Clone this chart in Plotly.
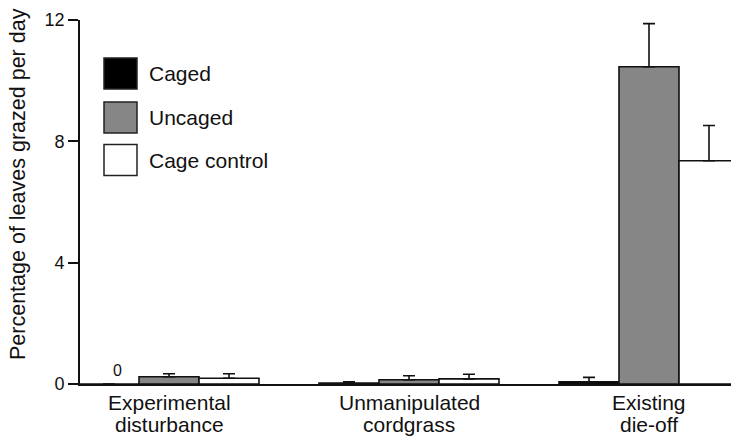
import plotly.graph_objects as go

# Grazing rate by habitat and caging treatment
categories = ["Experimental\ndisturbance", "Unmanipulated\ncordgrass", "Existing\ndie-off"]
treatments = ["Caged", "Uncaged", "Cage control"]

caged_mean = [0.0, 0.03, 0.07]
caged_upper = [0.0, 0.07, 0.22]
uncaged_mean = [0.24, 0.14, 10.46]
uncaged_upper = [0.34, 0.27, 11.88]
control_mean = [0.19, 0.17, 7.36]
control_upper = [0.34, 0.32, 8.52]

y_ticks = [0, 4, 8, 12]
y_title = "Percentage of leaves grazed per day"
zero_label = "0"

fill_colors = ["#000000", "#868686", "#ffffff"]
FONT = "Liberation Sans, Arial, Helvetica, sans-serif"

W, H = 731, 439
L, R, T, B = 80, 0, 20, 55
PW, PH = W - L - R, H - T - B


def px_x(p):
    return (p - L) / PW


def px_y(p):
    return (H - B - p) / PH


series = [
    (caged_mean, caged_upper),
    (uncaged_mean, uncaged_upper),
    (control_mean, control_upper),
]

xpos = list(range(len(categories)))
fig = go.Figure()
for name, color, (mean, upper) in zip(treatments, fill_colors, series):
    fig.add_trace(go.Bar(
        name=name,
        x=xpos,
        y=mean,
        marker=dict(color=color, line=dict(color="#111111", width=1.6)),
        error_y=dict(
            type="data",
            symmetric=False,
            array=[u - m for u, m in zip(upper, mean)],
            arrayminus=[0] * len(mean),
            color="#111111",
            thickness=1.6,
            width=6,
        ),
        showlegend=False,
    ))

annotations = []
# category labels, one annotation per text line
for i, cat in enumerate(categories):
    for j, line in enumerate(cat.split("\n")):
        annotations.append(dict(
            x=i, xref="x", y=px_y(402 + 22 * j), yref="paper",
            text=line, showarrow=False, xanchor="center", yanchor="middle",
            font=dict(family=FONT, size=21, color="#111111"),
        ))

# value label for the empty caged bar
annotations.append(dict(
    x=-0.25, xref="x", y=0, yref="y", yshift=3, xshift=8,
    text=zero_label, showarrow=False, xanchor="center", yanchor="bottom",
    font=dict(family=FONT, size=16, color="#111111"),
))

# y-axis title
annotations.append(dict(
    x=px_x(18), xref="paper", y=px_y(184), yref="paper",
    text=y_title, textangle=-90, showarrow=False,
    xanchor="center", yanchor="middle",
    font=dict(family=FONT, size=21.5, color="#111111"),
))

# legend drawn as boxes with labels
shapes = []
legend_rows = [73.5, 117.5, 160]
for name, color, cy in zip(treatments, fill_colors, legend_rows):
    shapes.append(dict(
        type="rect", xref="paper", yref="paper",
        x0=px_x(104), x1=px_x(137), y0=px_y(cy + 15.5), y1=px_y(cy - 15.5),
        fillcolor=color, line=dict(color="#222222", width=1.5),
    ))
    annotations.append(dict(
        x=px_x(147), xref="paper", y=px_y(cy), yref="paper",
        text=name, showarrow=False, xanchor="left", yanchor="middle",
        font=dict(family=FONT, size=21, color="#111111"),
    ))

fig.update_layout(
    width=W, height=H,
    margin=dict(l=L, r=R, t=T, b=B, pad=0),
    barmode="group",
    bargap=0.25,
    bargroupgap=0,
    paper_bgcolor="white",
    plot_bgcolor="white",
    font=dict(family=FONT, color="#111111"),
    annotations=annotations,
    shapes=shapes,
    xaxis=dict(
        range=[(L - 169) / 240, (W - R - 169) / 240],
        showline=True, linecolor="#111111", linewidth=1.6,
        showticklabels=False, ticks="", showgrid=False, zeroline=False,
        fixedrange=True,
    ),
    yaxis=dict(
        range=[0, 12],
        tickvals=y_ticks,
        showline=True, linecolor="#111111", linewidth=1.6,
        ticks="outside", ticklen=10, tickwidth=1.5, tickcolor="#111111",
        tickfont=dict(family=FONT, size=18, color="#111111"),
        showgrid=False, zeroline=False,
        fixedrange=True,
    ),
)

fig.write_html("out.html")
